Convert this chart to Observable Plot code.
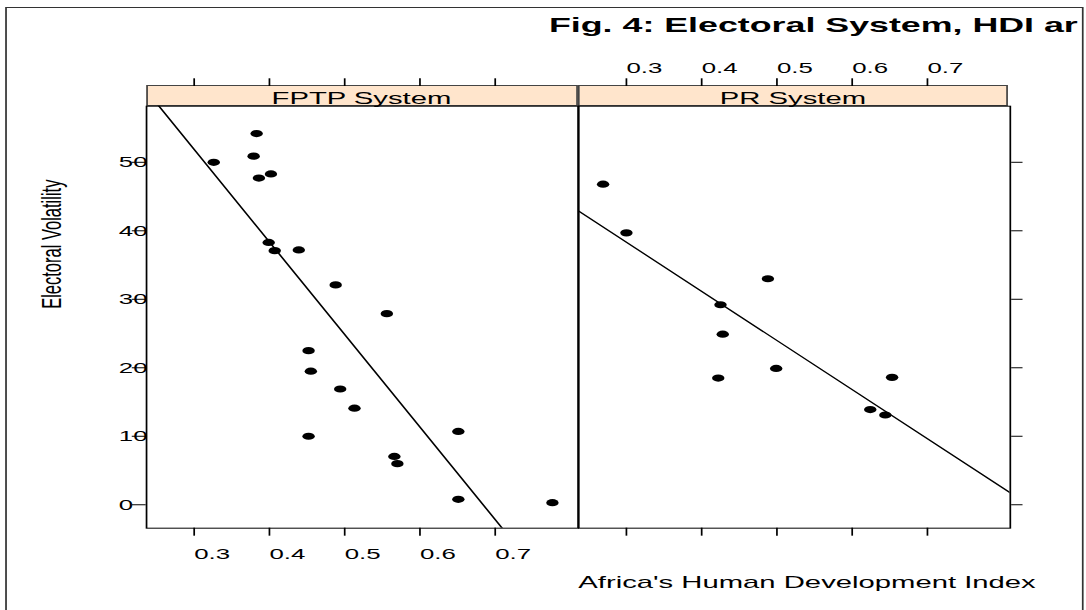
<!DOCTYPE html>
<html>
<head>
<meta charset="utf-8">
<script src="https://cdn.jsdelivr.net/npm/d3@7"></script>
<script src="https://cdn.jsdelivr.net/npm/@observablehq/plot@0.6"></script>
<style>
  html, body { margin: 0; padding: 0; background: #fff; width: 1086px; height: 610px; overflow: hidden; }
  #stage { position: absolute; left: 0; top: 0; width: 631.4px; height: 610px; transform: scaleX(1.72); transform-origin: 0 0; font-family: "Liberation Sans", Arial, sans-serif; color: #000; }
  .abs { position: absolute; white-space: nowrap; }
  .strip { position: absolute; box-sizing: border-box; background: #ffe5cc; border: 1px solid #444; }
</style>
</head>
<body>
<div id="stage"></div>
<script>
// ---- data ----
const panels = ["FPTP System", "PR System"];
const hdiFPTP = [0.383, 0.379, 0.326, 0.386, 0.402, 0.399, 0.407, 0.439, 0.488, 0.556, 0.452, 0.455, 0.494, 0.513, 0.452, 0.651, 0.566, 0.570, 0.651, 0.776];
const volFPTP = [54.2, 50.9, 50.0, 47.7, 48.3, 38.3, 37.1, 37.2, 32.1, 27.9, 22.5, 19.5, 16.9, 14.1, 10.0, 10.7, 7.05, 6.0, 0.8, 0.3];
const hdiPR = [0.269, 0.300, 0.425, 0.428, 0.422, 0.488, 0.499, 0.624, 0.644, 0.653];
const volPR = [46.8, 39.7, 29.2, 24.9, 18.5, 33.0, 19.9, 13.9, 13.1, 18.6];
const xTicks = [0.3, 0.4, 0.5, 0.6, 0.7];
const yTicks = [0, 10, 20, 30, 40, 50];
const title = "Fig. 4: Electoral System, HDI ar";
const xLabel = "Africa's Human Development Index";
const yLabel = "Electoral Volatility";

// ---- layout (unstretched units; the stage is stretched horizontally) ----
const K = 1.72;
const xDomain = [0.2367, 0.8101];
const yDomain = [-3.42, 58.19];
const panelL = 84.7, panelW = 250.9, panelTop = 105.7, panelBottom = 527.7, H = 610;
const stripTop = 85, stripH = panelTop - stripTop;
const tickFont = 15;

const stage = document.getElementById("stage");

function ols(xs, ys) {
  const mx = d3.mean(xs), my = d3.mean(ys);
  const b = d3.sum(xs, (x, i) => (x - mx) * (ys[i] - my)) / d3.sum(xs, x => (x - mx) ** 2);
  const a = my - b * mx;
  return xDomain.map(x => ({x, y: a + b * x}));
}
const pts = (xs, ys) => xs.map((x, i) => ({x, y: ys[i]}));

const common = {
  height: H,
  marginTop: panelTop,
  marginBottom: H - panelBottom,
  x: {domain: xDomain},
  y: {domain: yDomain},
  style: {fontFamily: "'Liberation Sans', Arial, sans-serif", fontSize: tickFont + "px", background: "transparent", overflow: "visible", color: "#000"}
};

// left panel (FPTP)
const left = Plot.plot({
  ...common,
  width: panelL + panelW,
  marginLeft: panelL,
  marginRight: 0,
  marks: [
    Plot.axisY(yTicks, {anchor: "left", tickSize: 8.1, tickPadding: 8.0, textAnchor: "start", fontSize: tickFont, label: null}),
    Plot.axisX(xTicks, {anchor: "bottom", tickSize: 8, tickPadding: 12.2, textAnchor: "start", fontSize: tickFont, label: null}),
    Plot.axisX(xTicks, {anchor: "top", tickSize: 7.7, dy: -stripH, tickFormat: () => "", label: null}),
    Plot.line(ols(hdiFPTP, volFPTP), {x: "x", y: "y", stroke: "#000", strokeWidth: 1.1, clip: true}),
    Plot.dot(pts(hdiFPTP, volFPTP), {x: "x", y: "y", r: 3.6, fill: "#000", stroke: null}),
    Plot.text([yLabel], {frameAnchor: "left", rotate: -90, dx: -55, dy: -73, fontSize: 16.5, textAnchor: "middle"}),
    Plot.frame({stroke: "#000"})
  ]
});
left.style.position = "absolute"; left.style.left = "0px"; left.style.top = "0px";
stage.appendChild(left);

// right panel (PR)
const right = Plot.plot({
  ...common,
  width: panelW + 20,
  marginLeft: 0,
  marginRight: 20,
  marks: [
    Plot.axisY(yTicks, {anchor: "right", tickSize: 6.6, tickFormat: () => "", label: null}),
    Plot.axisX(xTicks, {anchor: "bottom", tickSize: 8, tickFormat: () => "", label: null}),
    Plot.axisX(xTicks, {anchor: "top", tickSize: 7.7, tickPadding: 4.5, dy: -stripH, textAnchor: "start", fontSize: tickFont, label: null}),
    Plot.line(ols(hdiPR, volPR), {x: "x", y: "y", stroke: "#000", strokeWidth: 1.1, clip: true}),
    Plot.dot(pts(hdiPR, volPR), {x: "x", y: "y", r: 3.6, fill: "#000", stroke: null}),
    Plot.frame({stroke: "#000"})
  ]
});
right.style.position = "absolute"; right.style.left = (panelL + panelW) + "px"; right.style.top = "0px";
stage.appendChild(right);

// strips
panels.forEach((name, i) => {
  const s = document.createElement("div");
  s.className = "strip";
  s.style.left = (panelL + i * panelW) + "px";
  s.style.top = stripTop + "px";
  s.style.width = panelW + "px";
  s.style.height = (stripH + 0.5) + "px";
  stage.insertBefore(s, stage.firstChild);
  const t = document.createElement("div");
  t.className = "abs";
  t.textContent = name;
  t.style.fontSize = "17px";
  t.style.lineHeight = "17px";
  t.style.left = (panelL + i * panelW) + "px";
  t.style.width = panelW + "px";
  t.style.textAlign = "center";
  t.style.top = (104 - 0.8465 * 17) + "px";
  stage.appendChild(t);
});

// outer border
const border = document.createElement("div");
border.className = "abs";
Object.assign(border.style, {left: (6 / K) + "px", top: "7px", width: ((1083 - 6) / K) + "px", height: "640px", border: "1px solid #333", boxSizing: "border-box"});
stage.insertBefore(border, stage.firstChild);

// title
const tbox = document.createElement("div");
tbox.className = "abs";
const tLeft = 549 / K;
Object.assign(tbox.style, {left: tLeft + "px", top: (33 - 0.8465 * 20.8) + "px", fontSize: "20.8px", lineHeight: "20.8px", fontWeight: "bold"});
tbox.textContent = title;
stage.appendChild(tbox);

// x label
const xl = document.createElement("div");
xl.className = "abs";
Object.assign(xl.style, {left: (578.3 / K) + "px", top: (588 - 0.8465 * 17) + "px", fontSize: "17px", lineHeight: "17px"});
xl.textContent = xLabel;
stage.appendChild(xl);
</script>
</body>
</html>
